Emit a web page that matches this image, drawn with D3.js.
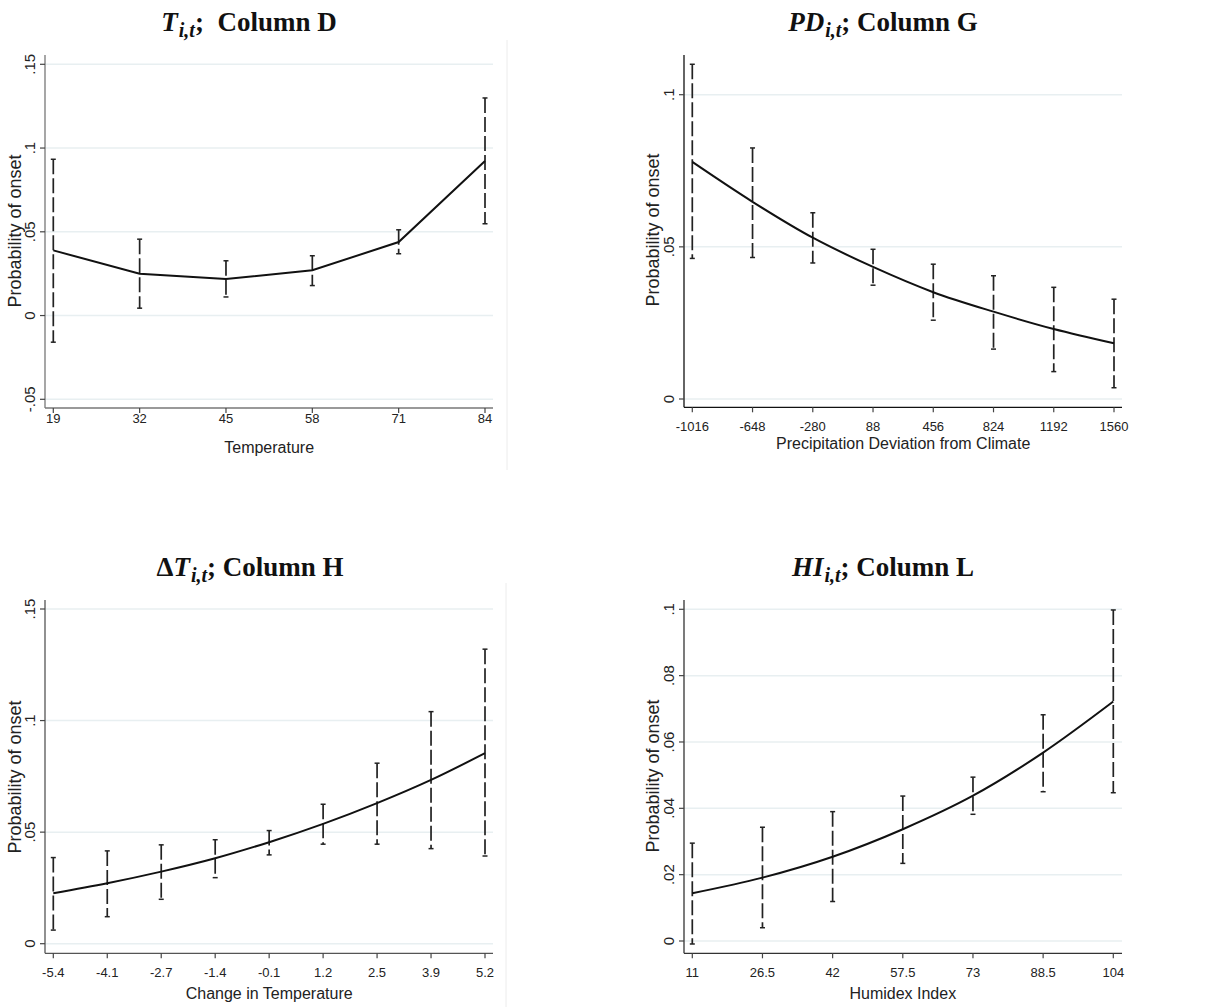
<!DOCTYPE html>
<html>
<head>
<meta charset="utf-8">
<script src="https://cdn.jsdelivr.net/npm/d3@7"></script>
<style>
  body { margin: 0; background: #fff; }
  svg { display: block; }
</style>
</head>
<body>
<script>
// panel D: temperature
let tempX = ["19", "32", "45", "58", "71", "84"];
let tempFit = [0.0389, 0.025, 0.0218, 0.027, 0.0439, 0.0923];
let tempLo = [-0.0159, 0.0044, 0.0111, 0.0179, 0.0369, 0.0548];
let tempHi = [0.0933, 0.0456, 0.0327, 0.0357, 0.0512, 0.1299];
let tempYTicks = [-0.05, 0, 0.05, 0.1, 0.15];
let tempYLabels = ["-.05", "0", ".05", ".1", ".15"];

// panel G: precipitation deviation
let precX = ["-1016", "-648", "-280", "88", "456", "824", "1192", "1560"];
let precFit = [0.0779, 0.0648, 0.053, 0.0434, 0.0351, 0.0287, 0.023, 0.0183];
let precLo = [0.0462, 0.0465, 0.0447, 0.0374, 0.0259, 0.0164, 0.009, 0.0037];
let precHi = [0.110, 0.0825, 0.0612, 0.0492, 0.0443, 0.0405, 0.0367, 0.0328];
let precYTicks = [0, 0.05, 0.1];
let precYLabels = ["0", ".05", ".1"];

// panel H: change in temperature
let dtX = ["-5.4", "-4.1", "-2.7", "-1.4", "-0.1", "1.2", "2.5", "3.9", "5.2"];
let dtFit = [0.0226, 0.0271, 0.0323, 0.0383, 0.0455, 0.0537, 0.063, 0.0734, 0.0854];
let dtLo = [0.0061, 0.0121, 0.0199, 0.0296, 0.0398, 0.0446, 0.0446, 0.0426, 0.0393];
let dtHi = [0.0386, 0.0416, 0.0443, 0.0466, 0.0507, 0.0625, 0.0809, 0.104, 0.132];
let dtYTicks = [0, 0.05, 0.1, 0.15];
let dtYLabels = ["0", ".05", ".1", ".15"];

// panel L: humidex
let hiX = ["11", "26.5", "42", "57.5", "73", "88.5", "104"];
let hiFit = [0.0144, 0.0191, 0.0254, 0.0337, 0.0438, 0.0568, 0.0722];
let hiLo = [-0.0009, 0.004, 0.0119, 0.0234, 0.0382, 0.045, 0.0447];
let hiHi = [0.0295, 0.0343, 0.039, 0.0437, 0.0494, 0.0682, 0.0998];
let hiYTicks = [0, 0.02, 0.04, 0.06, 0.08, 0.1];
let hiYLabels = ["0", ".02", ".04", ".06", ".08", ".1"];

let width = 1230;
let height = 1007;

let svg = d3
  .select("body")
  .append("svg")
  .attr("width", width)
  .attr("height", height);

let sans = "Liberation Sans, Arial, sans-serif";
let serif = "Liberation Serif, Times New Roman, serif";

function drawPanel(p) {
  let g = svg.append("g");

  let x = d3.scalePoint().domain(p.xs).range([p.x0, p.x1]);
  let y = d3.scaleLinear().domain(p.yDomain).range(p.yRange);

  // grid
  g.selectAll(".grid")
    .data(p.yTicks)
    .enter()
    .append("line")
    .attr("x1", p.axisX)
    .attr("x2", p.right)
    .attr("y1", (d) => y(d))
    .attr("y2", (d) => y(d))
    .attr("stroke", "#e8eff1")
    .attr("stroke-width", 1.5);

  // axes
  g.append("line")
    .attr("x1", p.axisX).attr("x2", p.axisX)
    .attr("y1", p.top).attr("y2", p.axisY)
    .attr("stroke", p.axisColor).attr("stroke-width", 1.3);
  g.append("line")
    .attr("x1", p.axisX).attr("x2", p.right)
    .attr("y1", p.axisY).attr("y2", p.axisY)
    .attr("stroke", p.axisColor).attr("stroke-width", 1.3);

  // y ticks
  g.selectAll(".yt")
    .data(p.yTicks)
    .enter()
    .append("line")
    .attr("x1", p.axisX - 5)
    .attr("x2", p.axisX)
    .attr("y1", (d) => y(d))
    .attr("y2", (d) => y(d))
    .attr("stroke", "#444")
    .attr("stroke-width", 1.2);
  g.selectAll(".yl")
    .data(p.yTicks)
    .enter()
    .append("text")
    .attr("transform", (d) => `translate(${p.axisX - 10},${y(d)}) rotate(-90)`)
    .attr("text-anchor", "middle")
    .attr("font-family", sans)
    .attr("font-size", 15)
    .attr("fill", "#222")
    .text((d, i) => p.yLabels[i]);

  // x ticks
  g.selectAll(".xt")
    .data(p.xs)
    .enter()
    .append("line")
    .attr("x1", (d) => x(d))
    .attr("x2", (d) => x(d))
    .attr("y1", p.axisY)
    .attr("y2", p.axisY + 5)
    .attr("stroke", "#444")
    .attr("stroke-width", 1.2);
  g.selectAll(".xl")
    .data(p.xs)
    .enter()
    .append("text")
    .attr("x", (d) => x(d))
    .attr("y", p.tickY)
    .attr("text-anchor", "middle")
    .attr("dominant-baseline", "central")
    .attr("font-family", sans)
    .attr("font-size", 13)
    .attr("fill", "#222")
    .text((d) => d);

  // axis titles
  g.append("text")
    .attr("x", (p.x0 + p.x1) / 2)
    .attr("y", p.xTitleY)
    .attr("text-anchor", "middle")
    .attr("dominant-baseline", "central")
    .attr("font-family", sans)
    .attr("font-size", 16)
    .attr("fill", "#222")
    .text(p.xTitle);
  g.append("text")
    .attr("transform", `translate(${p.yTitleX},${p.yTitleY}) rotate(-90)`)
    .attr("text-anchor", "middle")
    .attr("dominant-baseline", "central")
    .attr("font-family", sans)
    .attr("font-size", 18)
    .attr("fill", "#222")
    .text("Probability of onset");

  // error bars
  let bars = g.selectAll(".bar")
    .data(p.xs)
    .enter()
    .append("g");
  bars.append("line")
    .attr("x1", (d) => x(d))
    .attr("x2", (d) => x(d))
    .attr("y1", (d, i) => y(p.hi[i]))
    .attr("y2", (d, i) => y(p.lo[i]))
    .attr("stroke", "#222")
    .attr("stroke-width", 1.7)
    .attr("stroke-dasharray", "15,4");
  bars.append("line")
    .attr("x1", (d) => x(d) - 2.5)
    .attr("x2", (d) => x(d) + 2.5)
    .attr("y1", (d, i) => y(p.hi[i]))
    .attr("y2", (d, i) => y(p.hi[i]))
    .attr("stroke", "#222")
    .attr("stroke-width", 1.5);
  bars.append("line")
    .attr("x1", (d) => x(d) - 2.5)
    .attr("x2", (d) => x(d) + 2.5)
    .attr("y1", (d, i) => y(p.lo[i]))
    .attr("y2", (d, i) => y(p.lo[i]))
    .attr("stroke", "#222")
    .attr("stroke-width", 1.5);

  // fitted line
  let line = d3.line()
    .x((d) => x(d))
    .y((d, i) => y(p.fit[i]))
    .curve(p.curve);
  g.append("path")
    .datum(p.xs)
    .attr("d", line)
    .attr("fill", "none")
    .attr("stroke", "#111")
    .attr("stroke-width", 2);

  // title
  let t = g.append("text")
    .attr("x", p.titleX)
    .attr("y", p.titleY)
    .attr("text-anchor", "middle")
    .attr("font-family", serif)
    .attr("font-weight", "bold")
    .attr("font-size", 27)
    .attr("fill", "#111");
  if (p.delta) t.append("tspan").text("Δ");
  t.append("tspan").attr("font-style", "italic").text(p.sym);
  t.append("tspan").attr("font-style", "italic").attr("font-size", 20).attr("dx", 1).attr("dy", 6).text("i,t");
  t.append("tspan").attr("dy", -6).text(p.sep);
  t.append("tspan").text(p.col);

  // faint frame edge
  if (p.edge) {
    g.append("line")
      .attr("x1", p.edge[0]).attr("x2", p.edge[0])
      .attr("y1", p.edge[1]).attr("y2", p.edge[2])
      .attr("stroke", "#ececec").attr("stroke-width", 1);
  }
}

drawPanel({
  xs: tempX, fit: tempFit, lo: tempLo, hi: tempHi,
  yTicks: tempYTicks, yLabels: tempYLabels,
  yDomain: [-0.05, 0.15], yRange: [399.3, 64.3],
  x0: 53.3, x1: 485, axisX: 45, right: 493, top: 55, axisY: 408,
  tickY: 418, xTitleY: 447, xTitle: "Temperature",
  yTitleX: 15, yTitleY: 231, axisColor: "#777",
  titleX: 249, titleY: 31, sym: "T", sep: ";\u00a0 ", col: "Column D",
  curve: d3.curveLinear, edge: [507, 40, 470],
});

drawPanel({
  xs: precX, fit: precFit, lo: precLo, hi: precHi,
  yTicks: precYTicks, yLabels: precYLabels,
  yDomain: [0, 0.1], yRange: [399, 94.7],
  x0: 692.3, x1: 1114, axisX: 684, right: 1122, top: 55, axisY: 407.3,
  tickY: 426, xTitleY: 443, xTitle: "Precipitation Deviation from Climate",
  yTitleX: 653, yTitleY: 230, axisColor: "#111",
  titleX: 883, titleY: 31, sym: "PD", sep: "; ", col: "Column G",
  curve: d3.curveMonotoneX,
});

drawPanel({
  xs: dtX, fit: dtFit, lo: dtLo, hi: dtHi,
  yTicks: dtYTicks, yLabels: dtYLabels,
  yDomain: [0, 0.15], yRange: [943.7, 609],
  x0: 53.3, x1: 485, axisX: 45, right: 493, top: 600, axisY: 953.3,
  tickY: 972, xTitleY: 993, xTitle: "Change in Temperature",
  yTitleX: 15, yTitleY: 777, axisColor: "#555",
  titleX: 250, titleY: 576, sym: "T", delta: true, sep: "; ", col: "Column H",
  curve: d3.curveMonotoneX, edge: [506, 583, 1007],
});

drawPanel({
  xs: hiX, fit: hiFit, lo: hiLo, hi: hiHi,
  yTicks: hiYTicks, yLabels: hiYLabels,
  yDomain: [0, 0.1], yRange: [941, 609.3],
  x0: 692.3, x1: 1113.3, axisX: 684, right: 1122, top: 600, axisY: 953.3,
  tickY: 972, xTitleY: 993, xTitle: "Humidex Index",
  yTitleX: 653, yTitleY: 776, axisColor: "#333",
  titleX: 883, titleY: 576, sym: "HI", sep: "; ", col: "Column L",
  curve: d3.curveMonotoneX,
});
</script>
</body>
</html>
